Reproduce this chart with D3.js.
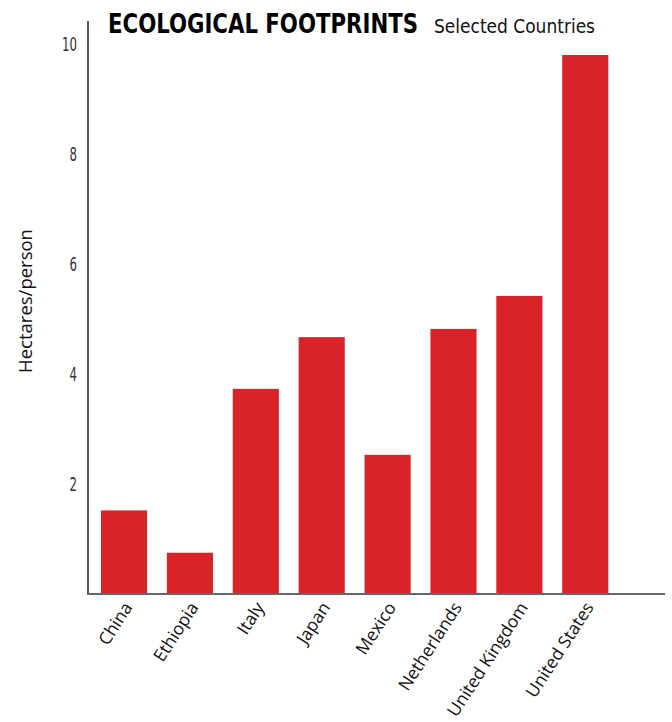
<!DOCTYPE html>
<html>
<head>
<meta charset="utf-8">
<script src="https://cdn.jsdelivr.net/npm/d3@7"></script>
<style>
  body { margin: 0; background: #fff; }
</style>
</head>
<body>
<svg width="672" height="722"></svg>
<script>
// data
const countries = ["China", "Ethiopia", "Italy", "Japan", "Mexico", "Netherlands", "United Kingdom", "United States"];
const footprints = [1.52, 0.75, 3.73, 4.67, 2.53, 4.82, 5.42, 9.8];
const yTicks = [2, 4, 6, 8, 10];

let svg = d3.select("svg");

// axis frame
let x = d3.scaleBand()
    .domain(countries)
    .range([93.4, 615.9])
    .paddingInner(0.3)
    .paddingOuter(0.115);

let y = d3.scaleLinear()
    .domain([0, 10])
    .range([594, 44]);

// bars
svg.append("g")
    .selectAll("rect")
    .data(countries)
    .enter()
    .append("rect")
    .attr("x", d => x(d))
    .attr("width", x.bandwidth())
    .attr("y", (d, i) => y(footprints[i]))
    .attr("height", (d, i) => y(0) - y(footprints[i]))
    .attr("fill", "#da2229");

// y axis: plain line and numbers, no tick marks
let yAxis = svg.append("g")
    .attr("transform", "translate(88,0)")
    .call(d3.axisLeft(y).tickValues(yTicks).tickSize(0).tickPadding(11));
yAxis.select(".domain").remove();
yAxis.selectAll("text")
    .attr("font-family", "DejaVu Sans Condensed, sans-serif")
    .attr("font-weight", 300)
    .attr("font-size", 19)
    .attr("fill", "#333")
    .attr("textLength", d => String(d).length * 7.5)
    .attr("lengthAdjust", "spacingAndGlyphs");

svg.append("line")
    .attr("x1", 88).attr("x2", 88)
    .attr("y1", 21).attr("y2", 594)
    .attr("stroke", "#222").attr("stroke-width", 1.5);

// x axis line
svg.append("line")
    .attr("x1", 87).attr("x2", 665)
    .attr("y1", 594).attr("y2", 594)
    .attr("stroke", "#666").attr("stroke-width", 2);

// country labels, rotated
svg.append("g")
    .selectAll("text")
    .data(countries)
    .enter()
    .append("text")
    .attr("transform", d => "translate(" + (x(d) + x.bandwidth() / 2 + 4) + ",604) rotate(-57)")
    .attr("text-anchor", "end")
    .attr("dy", "0.35em")
    .attr("font-family", "Open Sans, sans-serif")
    .attr("font-size", 17.5)
    .attr("fill", "#111")
    .text(d => d);

// y label
svg.append("text")
    .attr("transform", "translate(32,301) rotate(-90)")
    .attr("text-anchor", "middle")
    .attr("font-family", "Open Sans, sans-serif")
    .attr("font-size", 18.5)
    .attr("fill", "#111")
    .text("Hectares/person");

// titles
svg.append("text")
    .attr("x", 108).attr("y", 33)
    .attr("font-family", "DejaVu Sans Condensed, sans-serif")
    .attr("font-weight", "bold")
    .attr("font-size", 26)
    .attr("textLength", 310)
    .attr("lengthAdjust", "spacingAndGlyphs")
    .attr("fill", "#000")
    .text("ECOLOGICAL FOOTPRINTS");

svg.append("text")
    .attr("x", 434).attr("y", 33)
    .attr("font-family", "DejaVu Sans Condensed, sans-serif")
    .attr("font-size", 19)
    .attr("textLength", 161)
    .attr("lengthAdjust", "spacingAndGlyphs")
    .attr("fill", "#111")
    .text("Selected Countries");
</script>
</body>
</html>
